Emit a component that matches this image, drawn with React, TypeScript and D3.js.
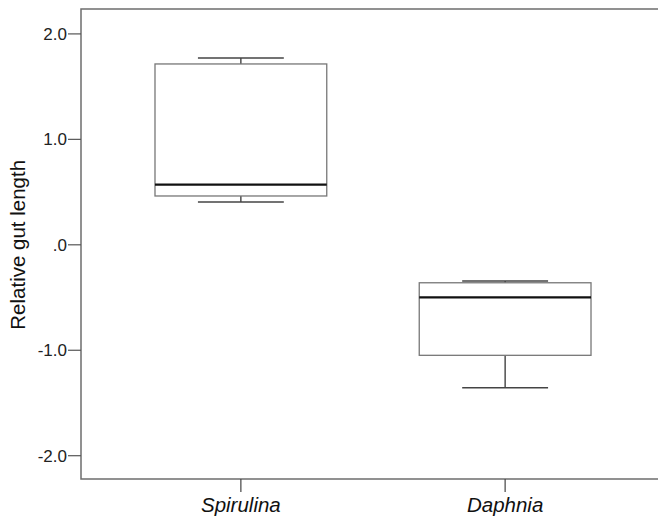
import React from 'react';
import * as d3 from 'd3';

// Data
const groups = ['Spirulina', 'Daphnia'];
const whiskerLow = [0.406, -1.356];
const q1 = [0.463, -1.048];
const median = [0.57, -0.498];
const q3 = [1.715, -0.36];
const whiskerHigh = [1.772, -0.343];
const yTicks = [2, 1, 0, -1, -2];
const yTickLabels = ['2.0', '1.0', '.0', '-1.0', '-2.0'];

const W = 658;
const H = 516;
const margin = { top: 9, right: -7, bottom: 37, left: 81 };

export default function App() {
  const innerW = W - margin.left - margin.right;
  const innerH = H - margin.top - margin.bottom;

  const x = d3.scaleBand<string>().domain(groups).range([0, innerW]).paddingInner(0.35).paddingOuter(0.28);
  const y = d3.scaleLinear().domain([-2.2209, 2.2362]).range([innerH, 0]);

  const bw = x.bandwidth();
  const font = 'Arial, "Liberation Sans", sans-serif';

  return (
    <svg width={W} height={H} style={{ position: 'absolute', left: 0, top: 0, background: '#fff' }}>
      <g transform={`translate(${margin.left},${margin.top})`}>
        {/* frame */}
        <path d={`M${innerW},0H0V${innerH}H${innerW}`} fill="none" stroke="#6e6e6e" strokeWidth={1.5} />
        {yTicks.map((t, i) => (
          <g key={t} transform={`translate(0,${y(t)})`}>
            <line x1={-13} x2={0} stroke="#555" strokeWidth={1.2} />
            <text x={-14} dy="0.35em" textAnchor="end" fontFamily={font} fontSize={17} fill="#222">
              {yTickLabels[i]}
            </text>
          </g>
        ))}
        {groups.map((g, i) => {
          const cx = (x(g) as number) + bw / 2;
          const x0 = x(g) as number;
          const capHalf = bw / 4;
          return (
            <g key={g}>
              <line x1={cx} x2={cx} y1={innerH} y2={innerH + 13} stroke="#444" strokeWidth={1.2} />
              <text x={cx} y={innerH + 33} textAnchor="middle" fontFamily={font} fontStyle="italic" fontSize={20.5} fill="#111">
                {g}
              </text>
              {/* whiskers */}
              <line x1={cx} x2={cx} y1={y(whiskerHigh[i])} y2={y(q3[i])} stroke="#333" strokeWidth={1.3} />
              <line x1={cx} x2={cx} y1={y(q1[i])} y2={y(whiskerLow[i])} stroke="#333" strokeWidth={1.3} />
              <line x1={cx - capHalf} x2={cx + capHalf} y1={y(whiskerHigh[i])} y2={y(whiskerHigh[i])} stroke="#444" strokeWidth={1.5} />
              <line x1={cx - capHalf} x2={cx + capHalf} y1={y(whiskerLow[i])} y2={y(whiskerLow[i])} stroke="#444" strokeWidth={1.5} />
              {/* box */}
              <rect x={x0} y={y(q3[i])} width={bw} height={y(q1[i]) - y(q3[i])} fill="#fff" stroke="#777" strokeWidth={1.3} />
              <line x1={x0} x2={x0 + bw} y1={y(median[i])} y2={y(median[i])} stroke="#111" strokeWidth={2.2} />
            </g>
          );
        })}
      </g>
      <text
        transform={`translate(25,${margin.top + y(0)}) rotate(-90)`}
        textAnchor="middle"
        fontFamily={font}
        fontSize={20.5}
        fill="#111"
      >
        Relative gut length
      </text>
    </svg>
  );
}
